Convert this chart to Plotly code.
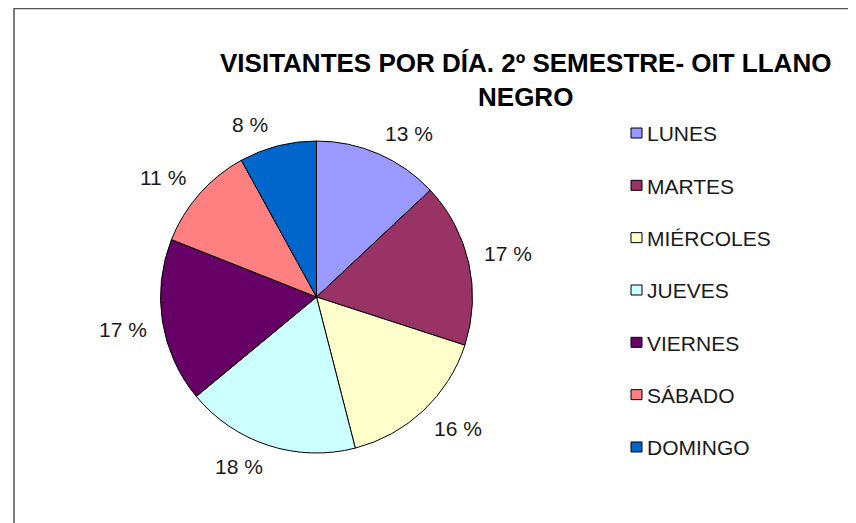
import math
import plotly.graph_objects as go

# ---- data ----
categories = ["LUNES", "MARTES", "MIÉRCOLES", "JUEVES", "VIERNES", "SÁBADO", "DOMINGO"]
values = [13, 17, 16, 18, 17, 11, 8]
colors = ["#9999FF", "#993366", "#FFFFCC", "#CCFFFF", "#660066", "#FF8080", "#0066CC"]
title_text = "VISITANTES POR DÍA. 2º SEMESTRE- OIT LLANO<br>NEGRO"

W, H = 856, 523
OFF = 8  # page offset of the figure inside the browser window
FONT = "Liberation Sans, Arial, sans-serif"
TXT = "#1a1a1a"

# pie geometry (window pixels)
cx, cy, r = 316.5, 297.0, 156.0
label_r = 172.0      # radial distance of label anchor
label_hw = 24.0      # label box half-width push (outside-end style)
label_hh = 6.0       # label box half-height push

def px(x):
    return (x - OFF) / W

def py(y):
    return 1 - (y - OFF) / H

def sgn(a):
    return 1.0 if a > 0 else (-1.0 if a < 0 else 0.0)

fig = go.Figure()
fig.add_trace(go.Pie(
    labels=categories,
    values=values,
    sort=False,
    direction="clockwise",
    rotation=0,
    marker=dict(colors=colors, line=dict(color="#000000", width=1)),
    textinfo="none",
    hoverinfo="label+percent",
    showlegend=False,
    domain=dict(x=[px(cx - r), px(cx + r)], y=[py(cy + r), py(cy - r)]),
))

annotations = []
total = sum(values)
cum = 0
for v in values:
    mid = 2 * math.pi * (cum + v / 2) / total
    cum += v
    s, c = math.sin(mid), math.cos(mid)
    lx = cx + label_r * s + label_hw * sgn(s)
    ly = cy - (label_r * c + label_hh * sgn(c))
    annotations.append(dict(
        x=px(lx), y=py(ly), xref="paper", yref="paper",
        text=f"{v} %", showarrow=False,
        font=dict(family=FONT, size=21, color=TXT),
        xanchor="center", yanchor="middle",
    ))

# legend (manual, for Excel-like spacing)
shapes = []
leg_x0, leg_y0, leg_step = 631, 133, 52.33
for i, (cat, col) in enumerate(zip(categories, colors)):
    yc = leg_y0 + i * leg_step
    shapes.append(dict(
        type="rect", xref="paper", yref="paper",
        x0=px(leg_x0), x1=px(leg_x0 + 11), y0=py(yc + 5), y1=py(yc - 5),
        fillcolor=col, line=dict(color="#000000", width=1),
    ))
    annotations.append(dict(
        x=px(leg_x0 + 14), y=py(yc + 1), xref="paper", yref="paper",
        text=cat, showarrow=False,
        font=dict(family=FONT, size=21, color=TXT),
        xanchor="left", yanchor="middle",
    ))

# chart frame (extends beyond visible area)
shapes.append(dict(
    type="rect", xref="paper", yref="paper",
    x0=px(14), x1=px(W + 40), y0=py(H + 40), y1=py(8.5),
    line=dict(color="#555555", width=1.5), fillcolor="rgba(0,0,0,0)", layer="below",
))

# title
annotations.append(dict(
    x=px(525), y=py(80), xref="paper", yref="paper",
    text="<b>" + title_text + "</b>", showarrow=False,
    font=dict(family=FONT, size=26, color="#000000"),
    xanchor="center", yanchor="middle", align="center",
))

fig.update_layout(
    width=W, height=H,
    margin=dict(l=0, r=0, t=0, b=0),
    paper_bgcolor="white", plot_bgcolor="white",
    showlegend=False,
    shapes=shapes,
    annotations=annotations,
)

fig.write_html("out.html")
